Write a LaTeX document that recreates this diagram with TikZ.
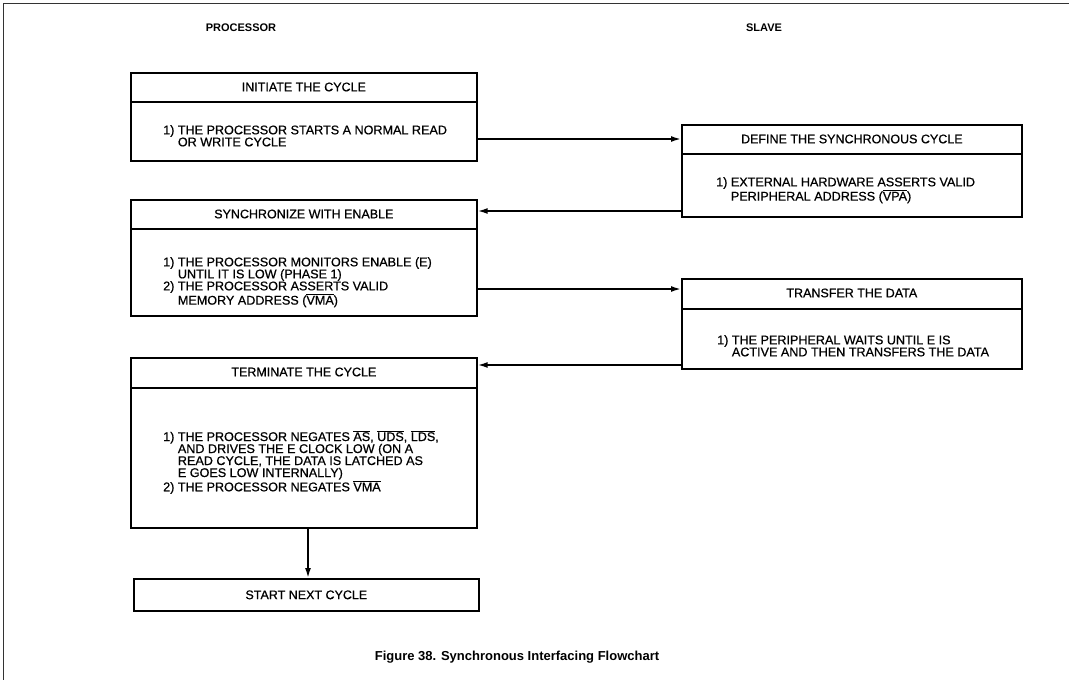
\documentclass[tikz,border=0pt]{standalone}
\usepackage{fontspec}
\setmainfont{Liberation Sans}
\newfontfamily\scanfont[FakeBold=0.7]{Liberation Sans}
\usetikzlibrary{arrows.meta}
\newcommand{\ovl}[1]{$\overline{\mbox{#1}}$}
\begin{document}
\begin{tikzpicture}[x=1pt,y=-1pt,
  box/.style={draw, line width=1.7pt, rectangle, inner sep=0pt, anchor=north west},
  divl/.style={line width=1.3pt},
  ttl/.style={font=\scanfont\fontsize{12.5}{12}\selectfont, inner sep=0pt},
  body/.style={font=\scanfont\fontsize{12.6}{12}\selectfont, align=left, inner sep=0pt, anchor=north west},
  hdr/.style={font=\bfseries\fontsize{11}{11}\selectfont, inner sep=0pt},
  figcap/.style={font=\bfseries\fontsize{13}{13}\selectfont, inner sep=0pt},
  arr/.style={line width=1.7pt, -{Latex[length=10pt,width=6pt]}},
  frm/.style={line width=0.8pt, black!80}]
\useasboundingbox (0,0) rectangle (1069,680);
\draw[frm] (3,680) -- (3,3) -- (1069,3);

\node[hdr] (hproc) at (241,28) {PROCESSOR};
\node[hdr] (hslave) at (764,28) {SLAVE};

% boxes
\node[box, minimum width=346pt, minimum height=88pt] (b1) at (130,72) {};
\node[box, minimum width=340pt, minimum height=92pt] (b2) at (681,124) {};
\node[box, minimum width=346pt, minimum height=116pt] (b3) at (130,199) {};
\node[box, minimum width=340pt, minimum height=90pt] (b4) at (681,278) {};
\node[box, minimum width=346pt, minimum height=170pt] (b5) at (130,357) {};
\node[box, minimum width=345pt, minimum height=32pt] (b6) at (133,578) {};

% dividers
\draw[divl] (b1.west |- 0,102) -- (b1.east |- 0,102);
\draw[divl] (b2.west |- 0,154) -- (b2.east |- 0,154);
\draw[divl] (b3.west |- 0,229) -- (b3.east |- 0,229);
\draw[divl] (b4.west |- 0,309) -- (b4.east |- 0,309);
\draw[divl] (b5.west |- 0,388) -- (b5.east |- 0,388);

% titles
\node[ttl] (t1) at (b1.north |- 0,87) {INITIATE THE CYCLE};
\node[ttl] (t2) at (b2.north |- 0,139) {DEFINE THE SYNCHRONOUS CYCLE};
\node[ttl] (t3) at (b3.north |- 0,214) {SYNCHRONIZE WITH ENABLE};
\node[ttl] (t4) at (b4.north |- 0,293) {TRANSFER THE DATA};
\node[ttl] (t5) at (b5.north |- 0,372) {TERMINATE THE CYCLE};
\node[ttl] (t6) at (b6.center) {START NEXT CYCLE};

% bodies
\node[body] (x1) at (163,125) {1) THE PROCESSOR STARTS A NORMAL READ\\\phantom{1) }OR WRITE CYCLE};
\node[body] (x2) at (716,177) {1) EXTERNAL HARDWARE ASSERTS VALID\\\phantom{1) }PERIPHERAL ADDRESS (\ovl{VPA})};
\node[body] (x3) at (163,257) {1) THE PROCESSOR MONITORS ENABLE (E)\\\phantom{1) }UNTIL IT IS LOW (PHASE 1)\\2) THE PROCESSOR ASSERTS VALID\\\phantom{2) }MEMORY ADDRESS (\ovl{VMA})};
\node[body] (x4) at (717,335) {1) THE PERIPHERAL WAITS UNTIL E IS\\\phantom{1) }ACTIVE AND THEN TRANSFERS THE DATA};
\node[body] (x5) at (163,430) {1) THE PROCESSOR NEGATES \ovl{AS}, \ovl{UDS}, \ovl{LDS},\\\phantom{1) }AND DRIVES THE E CLOCK LOW (ON A\\\phantom{1) }READ CYCLE, THE DATA IS LATCHED AS\\\phantom{1) }E GOES LOW INTERNALLY)\\2) THE PROCESSOR NEGATES \ovl{VMA}};

% connectors
\draw[arr] (b1.east |- 0,139) -- (b2.west |- 0,139);
\draw[arr] (b2.west |- 0,211) -- (b3.east |- 0,211);
\draw[arr] (b3.east |- 0,289) -- (b4.west |- 0,289);
\draw[arr] (b4.west |- 0,365) -- (b5.east |- 0,365);
\draw[arr] (b5.south -| 308,0) -- (b6.north -| 308,0);

\node[figcap] (caption) at (517,657) {Figure 38. Synchronous Interfacing Flowchart};
\end{tikzpicture}
\end{document}
